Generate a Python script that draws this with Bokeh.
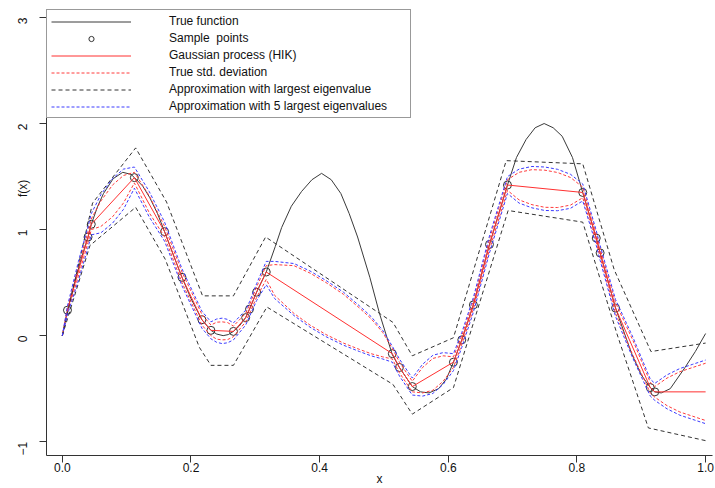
import math
from bokeh.plotting import figure
from bokeh.models import Range1d, FixedTicker, PrintfTickFormatter, Legend, LegendItem, LinearAxis
from bokeh.embed import file_html
from bokeh.resources import INLINE

# ---------------- data ----------------
true_x = [0.0, 0.008, 0.02, 0.03, 0.040, 0.045, 0.055, 0.064, 0.079, 0.094, 0.107, 0.112, 0.125, 0.136,
          0.148, 0.159, 0.172, 0.186, 0.200, 0.217, 0.231, 0.240, 0.250, 0.258, 0.266, 0.275, 0.285,
          0.291, 0.302, 0.317, 0.331, 0.341, 0.356, 0.372, 0.388, 0.403, 0.418, 0.433, 0.446, 0.459,
          0.478, 0.493, 0.513, 0.524, 0.544, 0.557, 0.570, 0.585, 0.597, 0.608, 0.621, 0.639, 0.664,
          0.692, 0.706, 0.721, 0.735, 0.749, 0.763, 0.777, 0.793, 0.809, 0.830, 0.836, 0.860, 0.885,
          0.900, 0.914, 0.921, 0.931, 0.945, 0.968, 0.984, 1.000]
true_y = [0.0, 0.24, 0.52, 0.74, 0.93, 1.05, 1.22, 1.34, 1.48, 1.54, 1.52, 1.49, 1.41, 1.30,
          1.15, 0.98, 0.77, 0.55, 0.35, 0.15, 0.05, 0.015, 0.0, 0.01, 0.04, 0.09, 0.17,
          0.25, 0.41, 0.60, 0.84, 1.02, 1.22, 1.36, 1.47, 1.53, 1.47, 1.34, 1.15, 0.93,
          0.55, 0.21, -0.18, -0.30, -0.48, -0.53, -0.54, -0.50, -0.41, -0.25, -0.04, 0.29, 0.86,
          1.42, 1.68, 1.85, 1.96, 2.00, 1.96, 1.88, 1.68, 1.35, 0.92, 0.78, 0.26, -0.17,
          -0.37, -0.49, -0.53, -0.54, -0.50, -0.30, -0.15, 0.02]

sample_x = [0.008, 0.040, 0.045, 0.112, 0.159, 0.186, 0.217, 0.231, 0.266, 0.285, 0.291, 0.302, 0.317,
            0.513, 0.524, 0.544, 0.608, 0.621, 0.639, 0.664, 0.692, 0.809, 0.830, 0.836, 0.860, 0.914, 0.921]
sample_y = [0.24, 0.93, 1.05, 1.49, 0.98, 0.55, 0.15, 0.05, 0.04, 0.17, 0.25, 0.41, 0.60,
            -0.17, -0.30, -0.48, -0.25, -0.04, 0.29, 0.86, 1.42, 1.35, 0.92, 0.78, 0.26, -0.49, -0.53]

gp_x = [0.0, 0.008, 0.040, 0.045, 0.112, 0.159, 0.186, 0.217, 0.231, 0.266, 0.285, 0.291, 0.302, 0.317,
        0.513, 0.524, 0.544, 0.608, 0.621, 0.639, 0.664, 0.692, 0.809, 0.830, 0.836, 0.860, 0.914, 0.921, 1.0]
gp_y = [0.0, 0.24, 0.93, 1.05, 1.49, 0.98, 0.55, 0.15, 0.05, 0.04, 0.17, 0.25, 0.41, 0.60,
        -0.17, -0.30, -0.48, -0.25, -0.04, 0.29, 0.86, 1.42, 1.35, 0.92, 0.78, 0.26, -0.49, -0.53, -0.53]

band_x = [0.000, 0.008, 0.025, 0.040, 0.045, 0.060, 0.078, 0.095, 0.112, 0.135, 0.159, 0.186, 0.217, 0.231,
          0.240, 0.2485, 0.257, 0.266, 0.285, 0.291, 0.302, 0.317, 0.330, 0.360, 0.385, 0.410, 0.437,
          0.462, 0.480, 0.498, 0.513, 0.524, 0.544, 0.560, 0.576, 0.592, 0.608, 0.621, 0.639, 0.664,
          0.692, 0.710, 0.730, 0.750, 0.770, 0.790, 0.809, 0.830, 0.836, 0.860, 0.887, 0.914, 0.921,
          0.940, 0.960, 0.980, 1.000]
red_upper = [0, 0.26, 0.66, 0.98, 1.10, 1.27, 1.42, 1.51, 1.54, 1.32, 1.03, 0.60, 0.20, 0.10,
             0.127, 0.13, 0.123, 0.09, 0.21, 0.29, 0.46, 0.66, 0.67, 0.66, 0.59, 0.50, 0.39,
             0.26, 0.16, 0.03, -0.12, -0.25, -0.43, -0.30, -0.215, -0.19, -0.20, 0.00, 0.33, 0.91,
             1.47, 1.54, 1.565, 1.56, 1.538, 1.491, 1.40, 0.96, 0.82, 0.31, -0.045, -0.44, -0.48,
             -0.40, -0.34, -0.30, -0.26]
red_lower = [0, 0.22, 0.56, 0.88, 1.00, 1.03, 1.12, 1.25, 1.44, 1.16, 0.93, 0.50, 0.10, 0.00,
             -0.033, -0.04, -0.037, -0.01, 0.13, 0.21, 0.36, 0.53, 0.38, 0.21, 0.10, 0.01, -0.07,
             -0.13, -0.17, -0.20, -0.22, -0.35, -0.53, -0.54, -0.515, -0.43, -0.30, -0.08, 0.25, 0.81,
             1.37, 1.28, 1.235, 1.21, 1.208, 1.231, 1.30, 0.88, 0.74, 0.21, -0.185, -0.54, -0.58,
             -0.66, -0.72, -0.76, -0.80]
blue_upper = [0, 0.28, 0.70, 1.03, 1.15, 1.33, 1.48, 1.57, 1.59, 1.36, 1.07, 0.63, 0.23, 0.13,
              0.157, 0.165, 0.153, 0.12, 0.24, 0.32, 0.49, 0.70, 0.70, 0.68, 0.61, 0.52, 0.41,
              0.28, 0.18, 0.05, -0.10, -0.22, -0.40, -0.27, -0.185, -0.16, -0.17, 0.03, 0.36, 0.94,
              1.50, 1.57, 1.595, 1.59, 1.568, 1.521, 1.43, 0.99, 0.85, 0.34, -0.015, -0.41, -0.45,
              -0.37, -0.31, -0.27, -0.23]
blue_lower = [0, 0.20, 0.52, 0.83, 0.95, 0.97, 1.06, 1.19, 1.39, 1.12, 0.89, 0.47, 0.07, -0.03,
              -0.063, -0.075, -0.067, -0.04, 0.10, 0.18, 0.33, 0.48, 0.35, 0.19, 0.08, -0.01, -0.09,
              -0.15, -0.19, -0.22, -0.25, -0.38, -0.56, -0.57, -0.545, -0.46, -0.33, -0.11, 0.22, 0.78,
              1.34, 1.25, 1.205, 1.18, 1.178, 1.201, 1.27, 0.85, 0.71, 0.18, -0.215, -0.57, -0.61,
              -0.69, -0.75, -0.79, -0.83]

black_up_x = [0, 0.047, 0.114, 0.162, 0.218, 0.266, 0.316, 0.514, 0.544, 0.608, 0.690, 0.809, 0.858, 0.915, 1.0]
black_up_y = [0, 1.25, 1.77, 1.26, 0.375, 0.375, 0.93, 0.125, -0.19, -0.02, 1.65, 1.62, 0.62, -0.15, -0.07]
black_lo_x = [0, 0.043, 0.114, 0.160, 0.213, 0.231, 0.266, 0.318, 0.514, 0.544, 0.608, 0.693, 0.809, 0.862, 0.911, 1.0]
black_lo_y = [0, 0.85, 1.21, 0.72, -0.11, -0.28, -0.28, 0.27, -0.46, -0.74, -0.49, 1.18, 1.07, 0.02, -0.87, -0.99]

x_ticks = [0.0, 0.2, 0.4, 0.6, 0.8, 1.0]
y_ticks = [-1, 0, 1, 2, 3]
x_title = "x"
y_title = "f(x)"
y_title_at = 1.47
legend_labels = ["True function", "Sample  points", "Gaussian process (HIK)", "True std. deviation",
                 "Approximation with largest eigenvalue", "Approximation with 5 largest eigenvalues"]

FONT = "Liberation Sans"
TXT = "#111111"
AX = "#333333"

p = figure(width=715, height=488, output_backend="svg", toolbar_location=None,
           x_range=Range1d(-0.0246, 1.0107), y_range=Range1d(-1.13, 3.075),
           min_border_left=46, min_border_right=3, min_border_top=9, min_border_bottom=32)
p.outline_line_color = None
p.xgrid.visible = False
p.ygrid.visible = False
p.background_fill_color = "white"

# x axis
xa = p.xaxis[0]
xa.ticker = FixedTicker(ticks=x_ticks)
xa.formatter = PrintfTickFormatter(format="%.1f")
xa.major_label_standoff = 0
xa.axis_label = x_title
xa.axis_label_standoff = -3
xa.axis_label_text_font = FONT
xa.axis_label_text_font_size = "12px"
xa.axis_label_text_font_style = "normal"
xa.axis_label_text_color = TXT

# inner y axis: line and ticks only
ya = p.yaxis[0]
ya.ticker = FixedTicker(ticks=y_ticks)
ya.major_label_overrides = {t: "" for t in y_ticks}
ya.major_label_text_font_size = "1px"
ya.major_label_standoff = 0

for ax in (xa, ya):
    ax.axis_line_color = AX
    ax.major_tick_line_color = AX
    ax.major_tick_in = 0
    ax.major_tick_out = 7
    ax.minor_tick_line_color = None
    ax.major_label_text_font = FONT
    ax.major_label_text_color = TXT
xa.major_label_text_font_size = "12px"

# outer y axis: rotated labels, and the "f(x)" title in the same column
yb = LinearAxis(ticker=FixedTicker(ticks=y_ticks + [y_title_at]),
                major_label_overrides={y_title_at: y_title},
                axis_line_color=None, major_tick_line_color=None, minor_tick_line_color=None,
                major_label_orientation=math.pi / 2, major_label_standoff=10,
                major_label_text_font=FONT, major_label_text_font_size="12px",
                major_label_text_color=TXT)
p.add_layout(yb, "left")

r_true = p.line(true_x, true_y, line_color="#3a3a3a", line_width=1)
r_pts = p.scatter(sample_x, sample_y, marker="circle", size=8, fill_color=None,
                  line_color="#333333", line_width=1)
r_gp = p.line(gp_x, gp_y, line_color="#ff3030", line_width=1)
r_red = [p.line(band_x, red_upper, line_color="#ff3b3b", line_dash="3 2", line_width=1),
         p.line(band_x, red_lower, line_color="#ff3b3b", line_dash="3 2", line_width=1)]
r_blk = [p.line(black_up_x, black_up_y, line_color="#333333", line_dash="4 3", line_width=1),
         p.line(black_lo_x, black_lo_y, line_color="#333333", line_dash="4 3", line_width=1)]
r_blu = [p.line(band_x, blue_upper, line_color="#3b3bff", line_dash="3 2", line_width=1),
         p.line(band_x, blue_lower, line_color="#3b3bff", line_dash="3 2", line_width=1)]

legend = Legend(items=[
    LegendItem(label=legend_labels[0], renderers=[r_true]),
    LegendItem(label=legend_labels[1], renderers=[r_pts]),
    LegendItem(label=legend_labels[2], renderers=[r_gp]),
    LegendItem(label=legend_labels[3], renderers=[r_red[0]]),
    LegendItem(label=legend_labels[4], renderers=[r_blk[0]]),
    LegendItem(label=legend_labels[5], renderers=[r_blu[0]]),
], location="top_left")
legend.margin = 0
legend.padding = 4
legend.spacing = 3
legend.glyph_width = 80
legend.glyph_height = 13
legend.label_height = 13
legend.label_width = 237
legend.label_standoff = 38
legend.label_text_font = FONT
legend.label_text_font_size = "12px"
legend.label_text_color = TXT
legend.border_line_color = "#333333"
legend.border_line_width = 1
legend.background_fill_alpha = 1.0
p.add_layout(legend)

open("out.html", "w").write(file_html(p, INLINE))
